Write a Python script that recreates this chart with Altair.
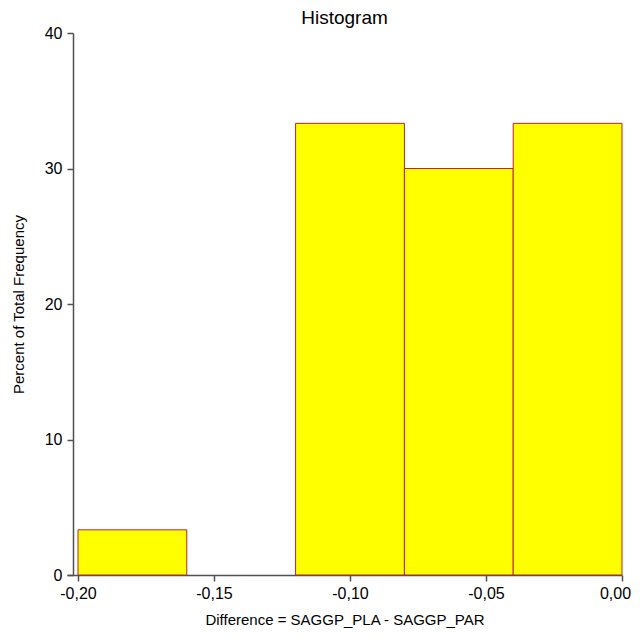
import altair as alt
import pandas as pd

bin_start = [-0.20, -0.16, -0.12, -0.08, -0.04]
bin_end = [-0.16, -0.12, -0.08, -0.04, 0.00]
percent = [3.333, 0.0, 33.333, 30.0, 33.333]

df = pd.DataFrame({"start": bin_start, "end": bin_end, "pct": percent})
df = df[df["pct"] > 0]

FONT = "Liberation Sans"

bars = alt.Chart(df).mark_rect(
    fill="#FFFF00", stroke="#B8242C", strokeWidth=1
).encode(
    x=alt.X("start:Q",
            scale=alt.Scale(domain=[-0.20404, 0.0], nice=False, zero=False),
            axis=alt.Axis(values=[-0.20, -0.15, -0.10, -0.05, 0.00],
                          labelExpr="(datum.value < -0.0001 ? '-' : '') + replace(format(abs(datum.value), '.2f'), '.', ',')",
                          labelOffset=alt.ExprRef("datum.value > -0.001 ? -7 : 0"),
                          title="Difference = SAGGP_PLA - SAGGP_PAR",
                          titlePadding=11, labelPadding=4,
                          labelFontSize=16, titleFontSize=15,
                          grid=False, tickSize=6, labelFlush=False)),
    x2="end:Q",
    y=alt.Y("pct:Q",
            scale=alt.Scale(domain=[0, 40], nice=False),
            axis=alt.Axis(values=[0, 10, 20, 30, 40],
                          title="Percent of Total Frequency",
                          labelFontSize=16, titleFontSize=15,
                          titlePadding=18, offset=-6, grid=False,
                          tickSize=6, labelPadding=5)),
    y2=alt.datum(0),
)

chart = bars.properties(
    width=555, height=542,
    title=alt.TitleParams("Histogram", font=FONT, fontSize=19, fontWeight="normal",
                          anchor="middle", offset=-3, color="#000000"),
    autosize=alt.AutoSizeParams(type="none"),
    padding={"left": 59, "top": 25, "right": 10, "bottom": 55},
).configure_view(stroke=None).configure_axis(
    labelFont=FONT, titleFont=FONT,
    labelColor="#000000", titleColor="#000000", titleFontWeight="normal",
    domainColor="#505050", tickColor="#505050", domainWidth=1.5, tickWidth=1.5,
)

chart.save("out.html", embed_options={"renderer": "svg", "actions": False})
